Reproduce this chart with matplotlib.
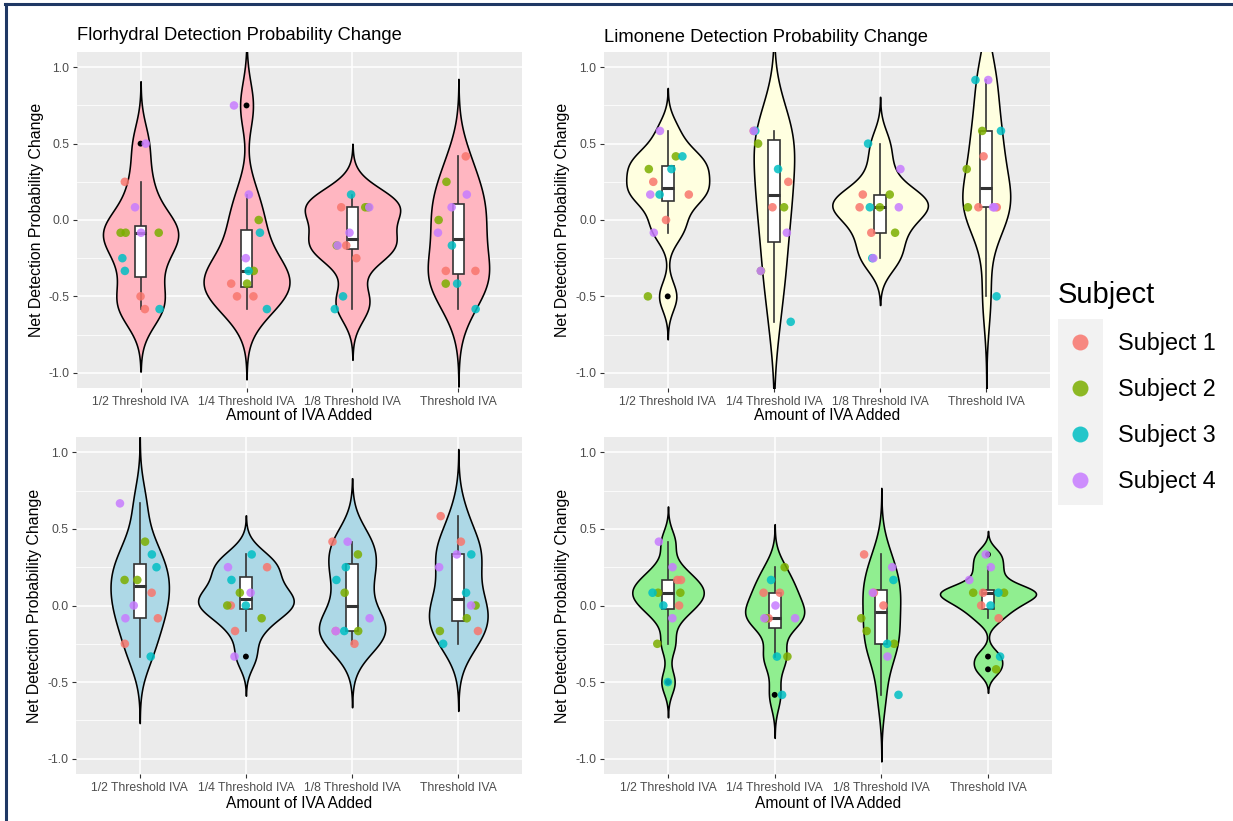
import numpy as np
import matplotlib
matplotlib.use("Agg")
import matplotlib.pyplot as plt
from matplotlib.lines import Line2D
from matplotlib.patches import Rectangle

plt.rcParams['font.family'] = ['Liberation Sans', 'DejaVu Sans']

doses = ["1/2 Threshold IVA", "1/4 Threshold IVA", "1/8 Threshold IVA", "Threshold IVA"]
subjects = ["Subject 1", "Subject 2", "Subject 3", "Subject 4"]
subject_colors = ["#F8766D", "#7CAE00", "#00BFC4", "#C77CFF"]
trials_per_subject = 3

# net change in detection probability, in twelfths
# each row = one dose, columns = subject 1 (x3), subject 2 (x3), subject 3 (x3), subject 4 (x3)
florhydral = np.array([
    [3, -6, -7,   -1, -1, -1,   -3, -4, -7,   6, 1, -1],
    [-6, -6, -5,   0, -4, -5,   -1, -4, -7,   9, 2, -3],
    [-2, -3, 1,   1, 1, -2,   2, -6, -7,   1, -1, -2],
    [5, -4, -4,   3, 0, -5,   -2, -5, -7,   2, 1, -1],
]) / 12
limonene = np.array([
    [3, 2, 0,   5, 4, -6,   5, 4, 2,   7, 2, -1],
    [7, 3, 1,   6, 1, -4,   7, 4, -8,   7, -1, -4],
    [2, 1, -1,   2, 1, -1,   6, -3, 1,   4, 1, -3],
    [5, 1, 1,   4, 1, 7,   11, 7, -6,   11, 1, 1],
]) / 12
panel3 = np.array([
    [1, -1, -3,   5, 2, 2,   4, 3, -4,   8, 0, -1],
    [3, 0, -2,   1, 0, -1,   4, 2, 0,   3, 1, -4],
    [5, -2, -3,   4, 1, -2,   3, 2, -2,   5, -1, -2],
    [7, 5, -2,   0, -1, -2,   4, 1, -3,   4, 3, 0],
]) / 12
panel4 = np.array([
    [2, 2, 0,   1, 1, -3,   1, 0, -6,   5, 3, -1],
    [1, 1, -1,   3, -1, -4,   2, -4, -7,   0, -1, -1],
    [4, 1, 0,   -1, -2, -3,   2, -3, -7,   3, 1, -4],
    [0, -1, 1,   1, 1, -5,   1, 0, -4,   4, 3, 2],
]) / 12

panel_data = [florhydral, limonene, panel3, panel4]
panel_titles = ["Florhydral Detection Probability Change",
                "Limonene Detection Probability Change", "", ""]
violin_fills = ["#FFB6C1", "#FFFFE0", "#ADD8E6", "#90EE90"]
yticks = [-1.0, -0.5, 0.0, 0.5, 1.0]
ytick_labels = ["-1.0", "-0.5", "0.0", "0.5", "1.0"]

W, H = 1233, 821


def fx(x):
    return x / W


def fy(y):
    return 1 - y / H


def bw_nrd0(x):
    sd = np.std(x, ddof=1)
    q25, q75 = np.percentile(x, [25, 75])
    lo = min(sd, (q75 - q25) / 1.34)
    if lo == 0:
        lo = sd if sd > 0 else 1.0
    return 0.9 * lo * len(x) ** -0.2


def kde(x):
    bw = bw_nrd0(x)
    grid = np.linspace(x.min() - 3 * bw, x.max() + 3 * bw, 512)
    z = (grid[:, None] - x[None, :]) / bw
    dens = np.exp(-0.5 * z ** 2).sum(axis=1) / (len(x) * bw * np.sqrt(2 * np.pi))
    return grid, dens


def box_stats(x):
    q1, med, q3 = np.percentile(x, [25, 50, 75])
    iqr = q3 - q1
    lo_f = q1 - 1.5 * iqr + 1e-9
    hi_f = q3 + 1.5 * iqr - 1e-9
    inside = x[(x >= lo_f) & (x <= hi_f)]
    outl = x[(x < lo_f) | (x > hi_f)]
    return q1, med, q3, inside.min(), inside.max(), outl


fig = plt.figure(figsize=(W / 100, H / 100), dpi=100)

panel_px = [(77, 52, 522, 388), (604, 52, 1050, 388),
            (76, 437, 522, 774), (604, 437, 1052, 774)]
ylabel_x = [37, 563, 35, 563]
xlabel_y = [415, 415, 803, 803]
title_y = [36, 37, None, None]

rng = np.random.default_rng(11)
xpos = np.arange(1, len(doses) + 1)

for k, data in enumerate(panel_data):
    l, t, r, b = panel_px[k]
    ax = fig.add_axes([fx(l), fy(b), (r - l) / W, (b - t) / H])
    ax.set_facecolor("#EBEBEB")
    ax.set_xlim(0.4, 4.6)
    ax.set_ylim(-1.1, 1.1)
    for s in ax.spines.values():
        s.set_visible(False)
    ax.set_axisbelow(True)
    ax.set_yticks(yticks)
    ax.set_yticklabels(ytick_labels)
    ax.set_yticks([-0.75, -0.25, 0.25, 0.75], minor=True)
    ax.set_xticks(xpos)
    ax.set_xticklabels(doses)
    ax.grid(which='major', color='white', lw=1.1)
    ax.grid(which='minor', axis='y', color='white', lw=0.55)
    ax.tick_params(axis='both', which='major', length=3, width=0.8, color='#333333',
                   labelcolor='#4D4D4D', labelsize=8.8, pad=2.5)
    ax.tick_params(axis='y', which='minor', length=0)

    # violins scaled so the fattest one in the panel is 0.9 wide
    dens_all = [kde(row) for row in data]
    dmax = max(d.max() for _, d in dens_all)
    for i, row in enumerate(data):
        grid, dens = dens_all[i]
        half = 0.45 * dens / dmax
        ax.fill_betweenx(grid, xpos[i] - half, xpos[i] + half, facecolor=violin_fills[k],
                         edgecolor='black', lw=1.15, zorder=2)

        q1, med, q3, wlo, whi, outl = box_stats(row)
        bw = 0.055
        ax.plot([xpos[i], xpos[i]], [q3, whi], color='#333333', lw=1.2, zorder=3)
        ax.plot([xpos[i], xpos[i]], [wlo, q1], color='#333333', lw=1.2, zorder=3)
        ax.add_patch(Rectangle((xpos[i] - bw, q1), 2 * bw, q3 - q1, facecolor='white',
                               edgecolor='#333333', lw=1.2, zorder=3))
        ax.plot([xpos[i] - bw, xpos[i] + bw], [med, med], color='#333333', lw=2.2,
                zorder=3, solid_capstyle='butt')
        if len(outl):
            ax.scatter(np.full(len(outl), xpos[i]), outl, s=18, color='black',
                       edgecolors='none', zorder=4)

        jit = rng.uniform(-0.2, 0.2, len(row))
        cols = np.repeat(subject_colors, trials_per_subject)
        ax.scatter(xpos[i] + jit, row, s=38, c=cols, alpha=0.85, edgecolors='none', zorder=5)

    cx = (l + r) / 2
    fig.text(fx(cx), fy(xlabel_y[k]), "Amount of IVA Added", ha='center', va='center',
             fontsize=11.2, color='black')
    fig.text(fx(ylabel_x[k]), fy((t + b) / 2), "Net Detection Probability Change",
             rotation=90, ha='center', va='center', fontsize=11.4, color='black')
    if panel_titles[k]:
        fig.text(fx(l), fy(title_y[k]), panel_titles[k], ha='left', va='center',
                 fontsize=13.2, color='black')

# legend
fig.add_artist(Rectangle((fx(1058), fy(505)), 45 / W, 186 / H, transform=fig.transFigure,
                         facecolor='#F2F2F2', edgecolor='none', zorder=0))
handles = [Line2D([], [], marker='o', ls='', markersize=11.5, markerfacecolor=c,
                  markeredgecolor='none', alpha=0.85) for c in subject_colors]
fig.legend(handles, subjects, title="Subject", loc='upper left',
           bbox_to_anchor=(fx(1058), fy(281)), frameon=False, fontsize=16.8,
           title_fontsize=21, handlelength=1.89, handletextpad=0.69, labelspacing=0.99,
           borderpad=0, borderaxespad=0, alignment='left')

# outer frame
fig.add_artist(Line2D([fx(5), 1], [fy(4), fy(4)], color='#1F3864', lw=2.2))
fig.add_artist(Line2D([fx(6), fx(6)], [fy(4), 0], color='#1F3864', lw=2.2))

fig.savefig("out.png", dpi=100)
